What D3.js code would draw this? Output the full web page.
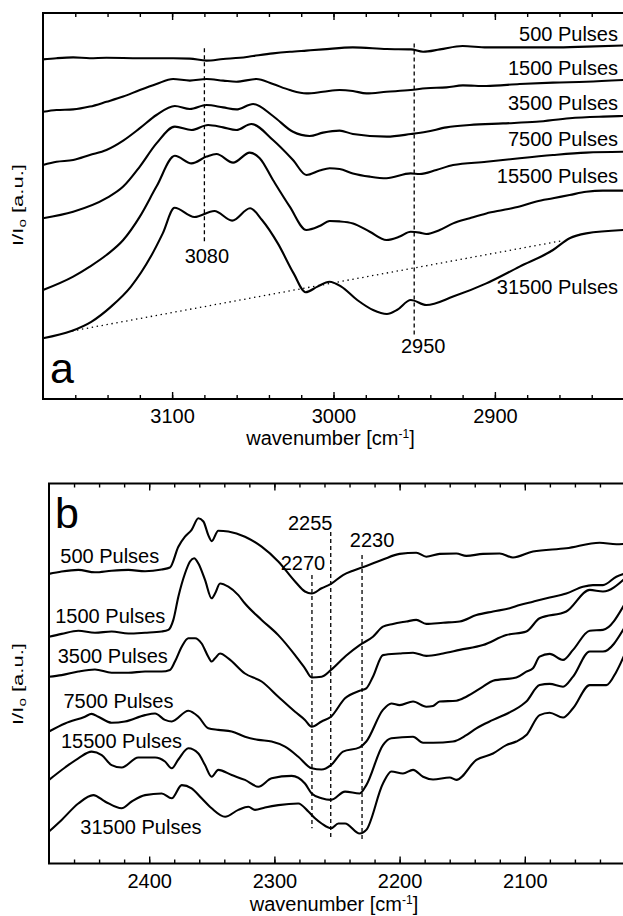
<!DOCTYPE html>
<html>
<head>
<meta charset="utf-8">
<script src="https://cdn.jsdelivr.net/npm/d3@7/dist/d3.min.js"></script>
<style>
  body { margin: 0; background: #fff; }
  svg { display: block; font-family: "Liberation Sans", Arial, Helvetica, sans-serif; }
  .curve { fill: none; stroke: #000; stroke-width: 2.1; stroke-linejoin: round; }
  .frame { fill: none; stroke: #000; stroke-width: 2; }
  .axis text { font-size: 20px; fill: #000; font-family: "Liberation Sans", Arial, sans-serif; }
  .axis line { stroke: #000; stroke-width: 1.4; }
  .peak { stroke: #000; stroke-width: 1.3; stroke-dasharray: 4 3; }
  .base { fill: none; stroke: #000; stroke-width: 1.3; stroke-dasharray: 1.4 3.6; }
  .lbl { font-size: 20px; fill: #000; }
  .letter { font-size: 43px; fill: #000; }
</style>
</head>
<body>
<svg id="chart"></svg>
<script>
const width = 623;
const height = 916;

// Series names (same order for both panels, top to bottom).
const pulses = ['500 Pulses', '1500 Pulses', '3500 Pulses', '7500 Pulses', '15500 Pulses', '31500 Pulses'];

// Panel a: [wavenumber, I/I0 in arbitrary units].
const a500 = [[3180, 84.9], [3171.6, 85.2], [3161.3, 85.4], [3151, 85.2], [3140.7, 85.3], [3120, 85.2], [3099.4, 85.2], [3089, 85.1], [3078.7, 84.6], [3068.4, 85.0], [3058, 85.3], [3049.8, 85.75], [3037.5, 86.4], [3027, 86.8], [3016.8, 87.1], [3006.5, 87.4], [2988, 87.9], [2967, 87.5], [2952, 87.4], [2944.5, 86.8], [2934, 87.4], [2920, 88.25], [2905, 87.9], [2885, 87.9], [2864, 87.9], [2843, 88.1], [2820, 88.4]];
const a1500 = [[3180, 71.8], [3171.6, 72.25], [3161.3, 72.4], [3151, 73.1], [3140.7, 74.3], [3130.3, 75.6], [3120, 77.25], [3109.7, 78.75], [3099.4, 80.0], [3089, 79.6], [3078.7, 80.0], [3068.4, 79.6], [3060.2, 79.3], [3047.8, 80.0], [3037.5, 78.75], [3027.1, 77.25], [3016.8, 76.4], [3006.5, 76.8], [2996.2, 77.25], [2988, 77.0], [2979.6, 76.4], [2967.2, 76.8], [2952.2, 77.25], [2942.5, 77.7], [2930, 77.9], [2919.8, 78.4], [2905.3, 78.25], [2884.7, 78.75], [2864, 79.1], [2843.4, 79.3], [2820, 79.75]];
const a3500 = [[3180, 58.5], [3171.6, 59.3], [3161.3, 59.75], [3151, 61.0], [3140.7, 62.25], [3130.3, 64.6], [3120, 67.7], [3109.7, 71.0], [3098.3, 73.25], [3089, 72.5], [3078.7, 73.5], [3068.4, 72.9], [3060.2, 72.4], [3049.8, 73.75], [3037.5, 70.75], [3025.1, 66.8], [3014.8, 65.75], [3006.5, 66.6], [2996.2, 67.1], [2988, 66.25], [2967, 65.6], [2952, 66.25], [2942.5, 66.8], [2930, 67.9], [2915.6, 68.5], [2895, 68.9], [2874.3, 69.3], [2853.7, 70.2], [2833, 70.6], [2820, 70.75]];
const a7500 = [[3180, 45.2], [3161.3, 46.8], [3140.7, 50.2], [3130.3, 53.1], [3120, 58.1], [3109.7, 63.9], [3098.3, 68.1], [3088, 67.25], [3077.7, 68.5], [3068.4, 67.9], [3060.2, 67.25], [3050.9, 68.75], [3037.5, 64.75], [3025.1, 59.75], [3016.8, 56.0], [3008.6, 57.1], [3002.4, 57.7], [2996.2, 57.5], [2988, 56.4], [2977.5, 55.6], [2967.2, 55.2], [2952.2, 56.4], [2946.6, 56.25], [2936.3, 57.25], [2925.9, 58.5], [2905.3, 59.3], [2884.7, 60.2], [2864, 61.0], [2843.4, 61.6], [2820, 61.8]];
const a15500 = [[3180, 27.25], [3161.3, 30.6], [3151, 33.1], [3140.7, 36.0], [3130.3, 39.75], [3120, 45.6], [3109.7, 53.1], [3098.3, 60.8], [3088, 58.9], [3078.7, 60.6], [3072.5, 61.25], [3062.2, 59.1], [3051.9, 61.6], [3045.7, 60.2], [3037.5, 54.75], [3027.1, 48.1], [3016.8, 42.25], [3008.6, 43.25], [3002.4, 44.5], [2996.2, 44.4], [2987.9, 43.9], [2977.5, 41.8], [2967.2, 39.75], [2959, 40.6], [2952.2, 41.8], [2946.6, 41.6], [2942.5, 41.25], [2934.2, 42.25], [2925.9, 43.9], [2915.6, 45.2], [2905.3, 46.4], [2895, 47.25], [2884.7, 48.1], [2874.3, 49.4], [2864, 50.2], [2853.7, 51.0], [2843.4, 51.8], [2833.1, 52.1], [2820, 52.1]];
const a31500 = [[3180, 15.2], [3162.4, 17.0], [3150.1, 19.3], [3137.8, 23.1], [3125.5, 28.1], [3113.2, 35.6], [3105.8, 41.4], [3098.5, 47.8], [3086.2, 45.5], [3073.8, 47.0], [3062.8, 44.6], [3051.7, 47.7], [3044.3, 44.75], [3034.5, 38.9], [3024.7, 31.4], [3017.3, 26.7], [3009.9, 28.1], [3002.5, 29.3], [2995.2, 28.1], [2985.3, 24.75], [2975.5, 22.25], [2966.9, 21.25], [2960.7, 22.25], [2952.1, 24.75], [2942.5, 23.5], [2925.9, 25.6], [2905.3, 28.9], [2884.7, 33.1], [2864, 37.25], [2853.7, 40.2], [2843.4, 41.4], [2820, 42.25]];

// Panel b.
const b500 = [[2480, 72.4], [2469.9, 73.0], [2456.6, 73.4], [2443.3, 72.8], [2430, 73.2], [2416.6, 73.4], [2403.3, 73.05], [2390, 73.5], [2383.4, 74.0], [2376.7, 79.2], [2371.4, 81.7], [2366.1, 83.4], [2360.7, 86.3], [2356.7, 85.5], [2352.8, 82.1], [2350.1, 80.6], [2344.8, 83.2], [2336.8, 83.0], [2323.5, 81.7], [2310.2, 79.2], [2296.9, 75.5], [2283.5, 70.5], [2275.6, 68.0], [2270.2, 67.5], [2262.3, 68.8], [2254.8, 69.9], [2245.2, 72.1], [2237.2, 73.2], [2226.6, 74.4], [2213.3, 76.0], [2200, 77.4], [2186.7, 77.7], [2178.7, 76.7], [2168, 77.4], [2154.7, 77.5], [2146.7, 76.9], [2133.4, 77.4], [2120.1, 77.5], [2109.5, 76.5], [2093.5, 78.0], [2066.9, 78.8], [2040.2, 80.2], [2026.9, 79.8], [2020, 79.9]];
const b1500 = [[2480, 56.7], [2469.9, 57.4], [2456.6, 58.2], [2443.3, 57.7], [2430, 58.0], [2416.6, 57.5], [2403.3, 57.7], [2390, 58.0], [2384.7, 58.4], [2380.7, 60.9], [2376.7, 66.7], [2371.4, 72.5], [2367.4, 75.5], [2364.1, 76.3], [2360.7, 75.0], [2355.4, 70.9], [2350.1, 66.3], [2347.4, 67.5], [2343.4, 70.0], [2336.8, 69.2], [2328.8, 67.1], [2323.5, 65.0], [2310.2, 60.9], [2296.9, 57.1], [2283.5, 52.1], [2275.6, 48.8], [2270.2, 46.5], [2262.3, 46.7], [2254.8, 48.4], [2242.6, 52.0], [2231.9, 54.6], [2221.3, 56.7], [2213.3, 59.2], [2205.3, 59.9], [2194.6, 60.5], [2186.7, 60.9], [2178.7, 59.9], [2165.3, 60.2], [2152, 60.5], [2138.7, 62.1], [2125.4, 63.0], [2112.1, 63.8], [2104.1, 64.6], [2093.5, 65.45], [2080.2, 66.5], [2066.9, 67.5], [2053.6, 69.2], [2045.6, 69.6], [2037.6, 69.6], [2026.9, 71.7], [2020, 72.5]];
const b3500 = [[2480, 46.7], [2469.9, 47.1], [2456.6, 48.0], [2443.3, 48.5], [2430, 47.7], [2416.6, 47.7], [2403.3, 48.0], [2390, 48.0], [2383.4, 48.4], [2379.4, 50.5], [2374, 54.2], [2368.7, 56.3], [2363.4, 56.3], [2358.1, 55.0], [2352.8, 51.7], [2350.1, 50.5], [2347.4, 51.3], [2343.4, 52.5], [2336.8, 51.3], [2323.5, 47.5], [2310.2, 45.5], [2296.9, 41.7], [2283.5, 37.95], [2275.6, 35.9], [2270.2, 34.2], [2262.3, 35.5], [2254.8, 36.7], [2243.6, 41.3], [2231.9, 43.2], [2226.6, 43.8], [2221.3, 46.7], [2213.3, 52.1], [2200, 52.5], [2189.3, 52.7], [2178.7, 51.9], [2165.3, 52.5], [2152, 53.4], [2133.4, 54.6], [2114.8, 57.1], [2098.8, 58.0], [2088.2, 61.3], [2066.9, 63.0], [2048.2, 68.4], [2037.6, 68.0], [2020, 71.3]];
const b7500 = [[2480, 33.0], [2467.2, 35.0], [2451.3, 36.7], [2446, 37.4], [2440.6, 36.7], [2430, 35.2], [2419.3, 35.5], [2403.3, 37.1], [2395.3, 37.5], [2387.4, 35.9], [2382, 35.5], [2368.7, 38.2], [2360.7, 36.7], [2352.8, 33.8], [2344.8, 33.4], [2334.1, 33.0], [2323.5, 31.7], [2312.8, 30.9], [2302.2, 30.5], [2291.5, 29.2], [2280.9, 26.7], [2270.2, 23.8], [2262.3, 23.5], [2254.8, 24.6], [2245.2, 27.96], [2231.9, 29.04], [2226.6, 30.5], [2213.3, 38.4], [2206.6, 40.0], [2200, 39.6], [2189.3, 40.5], [2178.7, 39.2], [2173.3, 39.4], [2168, 40.5], [2154.7, 40.7], [2146.7, 41.7], [2133.4, 44.2], [2125.4, 45.7], [2106.8, 46.5], [2098.8, 47.96], [2093.5, 48.8], [2088.2, 51.7], [2080.2, 52.4], [2069.5, 50.9], [2061.5, 53.4], [2048.2, 58.2], [2037.6, 58.4], [2020, 65.0]];
const b15500 = [[2480, 20.9], [2467.2, 24.0], [2456.6, 26.3], [2445.9, 27.96], [2437.9, 27.1], [2430, 24.6], [2422, 24.0], [2408.7, 26.5], [2395.3, 26.5], [2387.4, 25.5], [2382, 23.8], [2376.7, 26.0], [2368.7, 28.8], [2360.7, 27.5], [2355.4, 24.6], [2350.1, 21.7], [2344.8, 23.4], [2334.1, 22.1], [2323.5, 20.9], [2312.8, 19.2], [2302.2, 21.3], [2286.2, 21.9], [2275.6, 20.0], [2270.2, 17.5], [2262.3, 16.3], [2254.8, 15.9], [2243.6, 17.96], [2231.9, 17.5], [2226.6, 19.6], [2213.3, 29.6], [2206.6, 31.3], [2189.3, 31.7], [2181.3, 30.2], [2173.3, 30.2], [2157.4, 30.5], [2146.7, 32.1], [2138.7, 33.8], [2125.4, 35.9], [2109.5, 38.2], [2098.8, 40.5], [2088.2, 44.6], [2080.2, 44.9], [2069.5, 44.2], [2061.5, 46.7], [2048.2, 53.0], [2037.6, 53.0], [2020, 59.2]];
const b31500 = [[2480, 8.0], [2469.9, 10.9], [2456.6, 15.0], [2444.6, 17.1], [2435.3, 15.5], [2422, 13.8], [2414, 15.5], [2403.3, 17.1], [2390, 17.5], [2382, 16.3], [2374, 19.6], [2366.1, 18.8], [2358.1, 16.3], [2350.1, 13.8], [2339.4, 11.7], [2328.8, 13.4], [2320.8, 14.2], [2315.5, 13.4], [2307.5, 14.0], [2296.9, 14.6], [2280.9, 15.0], [2272.9, 13.0], [2267.6, 11.3], [2262.3, 10.0], [2254.8, 8.8], [2248.9, 10.0], [2243.6, 10.0], [2231.9, 7.5], [2226.6, 8.4], [2213.3, 20.0], [2206.6, 23.0], [2197.3, 22.5], [2189.3, 23.4], [2181.3, 21.7], [2173.3, 21.0], [2160, 21.5], [2154.7, 20.9], [2138.7, 25.9], [2125.4, 27.5], [2114.8, 29.6], [2106.8, 30.5], [2098.8, 32.1], [2088.2, 37.1], [2080.2, 37.7], [2069.5, 36.5], [2061.5, 38.8], [2048.2, 44.6], [2034.9, 44.6], [2026.9, 47.96], [2020, 52.5]];

// Tick labels.
const ticksA = [3100, 3000, 2900];
const ticksB = [2400, 2300, 2200, 2100];

// Marked bands: wavenumber, dashed-line extent [top, bottom] and label height (data units).
const peaksA = [3080, 2950];
const peakSpanA = [[87.7, 39.3], [88.9, 15.6]];
const peakLabelA = [33.9, 11.6];
const peaksB = [2270, 2255, 2230];
const peakSpanB = [[72.1, 8.8], [82.9, 6.3], [77.1, 5.9]];
const peakLabelB = [73.4, 83.4, 79.2];

// Dotted baseline under the 31500 pulse spectrum (panel a).
const baselineA = [[3162, 17.0], [2858, 39.6]];

// Curve label heights (data units); panel b labels also have a start wavenumber.
const labelYA = [89.6, 81.0, 72.25, 63.25, 53.9, 26.25];
const labelXB = [2471, 2475, 2473, 2468.5, 2470.5, 2455];
const labelYB = [75.2, 60.05, 50.2, 38.8, 28.8, 7.4];

const svg = d3.select('#chart')
  .attr('width', width)
  .attr('height', height)
  .attr('viewBox', `0 0 ${width} ${height}`);

svg.append('rect').attr('width', width).attr('height', height).attr('fill', '#fff');

function drawPanel(p) {
  const x = d3.scaleLinear().domain(p.xDomain).range([p.left, p.right]);
  const y = d3.scaleLinear().domain(p.yDomain).range([p.bottom, p.top]);
  const g = svg.append('g');

  // Minor ticks every 20 cm-1 on top and bottom, pointing inwards.
  const minor = d3.range(p.xDomain[0] - 20, p.xDomain[1], -20);
  g.append('g').attr('class', 'axis')
    .attr('transform', `translate(0,${p.bottom})`)
    .call(d3.axisBottom(x).tickValues(minor).tickSize(-4).tickSizeOuter(0).tickFormat(''))
    .call((s) => s.select('.domain').remove());
  g.append('g').attr('class', 'axis')
    .attr('transform', `translate(0,${p.top})`)
    .call(d3.axisTop(x).tickValues(minor).tickSize(-4).tickSizeOuter(0).tickFormat(''))
    .call((s) => s.select('.domain').remove());

  // Major ticks with labels.
  g.append('g').attr('class', 'axis')
    .attr('transform', `translate(0,${p.bottom})`)
    .call(d3.axisBottom(x).tickValues(p.ticks).tickSize(-7).tickSizeOuter(0)
      .tickPadding(p.tickPad).tickFormat(d3.format('d')))
    .call((s) => s.select('.domain').remove());
  g.append('g').attr('class', 'axis')
    .attr('transform', `translate(0,${p.top})`)
    .call(d3.axisTop(x).tickValues(p.ticks).tickSize(-7).tickSizeOuter(0).tickFormat(''))
    .call((s) => s.select('.domain').remove());

  // Frame: the right edge of the original is cut off.
  g.append('path').attr('class', 'frame')
    .attr('d', `M${p.right + 3},${p.top}H${p.left}V${p.bottom}H${p.right + 3}`);

  // Axis titles.
  const xt = g.append('text').attr('class', 'lbl')
    .attr('x', (p.left + p.right) / 2 - 3)
    .attr('y', p.bottom + p.titleGap)
    .attr('text-anchor', 'middle')
    .text('wavenumber [cm');
  xt.append('tspan').attr('font-size', 12).style('font-size', '12px').attr('dy', -7).text('-1');
  xt.append('tspan').attr('dy', 7).text(']');

  const yt = g.append('text').attr('class', 'lbl')
    .attr('transform', `translate(23,${p.yTitle}) rotate(-90)`)
    .attr('text-anchor', 'middle')
    .attr('font-size', 14.5)
    .style('font-size', '14.5px')
    .attr('textLength', 82)
    .attr('lengthAdjust', 'spacingAndGlyphs');
  yt.append('tspan').text('I/I');
  yt.append('tspan').attr('font-size', 10).style('font-size', '10px').attr('dy', 3).text('o');
  yt.append('tspan').attr('dy', -3).text(' [a.u.]');

  // Marked bands.
  p.peaks.forEach((wn, i) => {
    g.append('line').attr('class', 'peak')
      .attr('x1', x(wn)).attr('x2', x(wn))
      .attr('y1', y(p.peakSpan[i][0])).attr('y2', y(p.peakSpan[i][1]));
    g.append('text').attr('class', 'lbl')
      .attr('x', x(wn) + p.peakDx[i])
      .attr('y', y(p.peakLabel[i]))
      .attr('text-anchor', 'middle')
      .text(wn);
  });

  if (p.baseline) {
    g.append('path').attr('class', 'base')
      .attr('d', d3.line().x((d) => x(d[0])).y((d) => y(d[1]))(p.baseline));
  }

  const line = d3.line()
    .x((d) => x(d[0]))
    .y((d) => y(d[1]))
    .curve(d3.curveMonotoneX);

  g.selectAll('.curve')
    .data(p.series)
    .join('path')
    .attr('class', 'curve')
    .attr('d', line);

  // Curve labels.
  p.series.forEach((s, i) => {
    g.append('text').attr('class', 'lbl')
      .attr('x', p.labelX ? x(p.labelX[i]) : p.right - 6)
      .attr('y', y(p.labelY[i]))
      .attr('text-anchor', p.labelX ? 'start' : 'end')
      .text(pulses[i]);
  });

  g.append('text').attr('class', 'letter')
    .attr('x', p.letterX)
    .attr('y', p.letterY)
    .text(p.letter);
}

drawPanel({
  xDomain: [3180, 2820],
  yDomain: [0, 96.5],
  left: 43,
  right: 624,
  top: 13,
  bottom: 399,
  tickPad: 9.5,
  titleGap: 46,
  ticks: ticksA,
  yTitle: 205,
  series: [a500, a1500, a3500, a7500, a15500, a31500],
  peaks: peaksA,
  peakSpan: peakSpanA,
  peakLabel: peakLabelA,
  peakDx: [2.5, 9],
  baseline: baselineA,
  labelY: labelYA,
  letter: 'a',
  letterX: 50,
  letterY: 383,
});

drawPanel({
  xDomain: [2480, 2020],
  yDomain: [0, 95],
  left: 49,
  right: 625,
  top: 483.5,
  bottom: 863.5,
  tickPad: 10,
  titleGap: 47,
  ticks: ticksB,
  yTitle: 684,
  series: [b500, b1500, b3500, b7500, b15500, b31500],
  peaks: peaksB,
  peakSpan: peakSpanB,
  peakLabel: peakLabelB,
  peakDx: [-9, -20.5, 10],
  labelX: labelXB,
  labelY: labelYB,
  letter: 'b',
  letterX: 55,
  letterY: 528,
});
</script>
</body>
</html>
